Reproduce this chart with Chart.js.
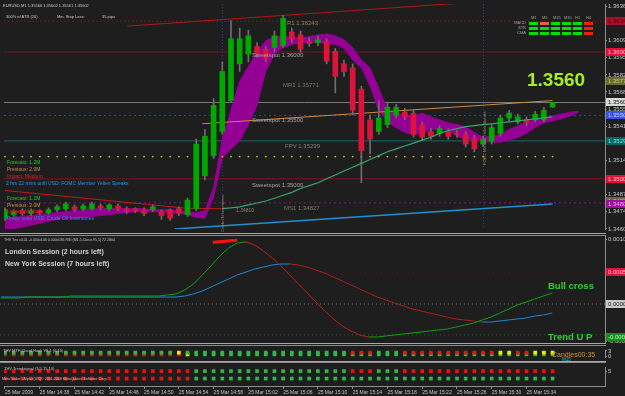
<!DOCTYPE html>
<html><head><meta charset="utf-8">
<script src="https://cdn.jsdelivr.net/npm/chart.js@4.4.1/dist/chart.umd.min.js"></script>
<style>
html,body{margin:0;padding:0;background:#1e1e1e;}
#wrap{position:relative;width:625px;height:396px;overflow:hidden;background:#1e1e1e;font-family:"Liberation Sans",Arial,sans-serif;}
canvas{position:absolute;left:0;}
#cMain{top:0px}#cOsc{top:236px}#cD1{top:346px}#cD2{top:363px}
.t{position:absolute;white-space:nowrap;line-height:1;}
.sep{position:absolute;left:0;width:606px;}
</style></head><body><div id="wrap">
<canvas id="cMain" width="625" height="233"></canvas>
<canvas id="cOsc" width="625" height="107"></canvas>
<canvas id="cD1" width="625" height="15"></canvas>
<canvas id="cD2" width="625" height="33"></canvas>
<div class="sep" style="top:233px;height:1px;background:#a8a8a8"></div>
<div class="sep" style="top:235px;height:1px;background:#8a8a8a"></div>
<div class="sep" style="top:343px;height:1px;background:#a8a8a8"></div>
<div class="sep" style="top:345px;height:1px;background:#8a8a8a"></div>
<div class="sep" style="top:361px;height:1px;background:#a8a8a8"></div>
<div class="sep" style="top:362px;height:1px;background:#8a8a8a"></div>
</div>
<script>
// ---------------- DATA ----------------
// candles: EURUSD M1, 25 Mar 2009 14:34 .. 15:37 (index 0..63)
const openP = [1.34688,1.34718,1.34748,1.34726,1.34748,1.34733,1.34756,1.34764,1.34779,1.34764,
1.34764,1.34786,1.34764,1.34786,1.34764,1.34764,1.34756,1.34756,1.34741,1.34756,
1.34764,1.34718,1.34764,1.35023,1.35183,1.35373,1.35617,1.35907,1.35983,1.36044,
1.36021,1.36036,1.36051,1.36158,1.36135,1.36082,1.36074,1.36082,1.36006,1.35907,
1.35876,1.35708,1.35465,1.35373,1.35427,1.35503,1.35526,1.35518,1.35427,1.35373,
1.35358,1.35373,1.35358,1.35350,1.35320,1.35274,1.35297,1.35358,1.35480,1.35449,
1.35465,1.35465,1.35465,1.35566];
const highP = [1.34771,1.34756,1.34764,1.34764,1.34756,1.34771,1.34794,1.34817,1.34794,1.34802,
1.34817,1.34802,1.34802,1.34802,1.34779,1.34771,1.34771,1.34794,1.34756,1.34764,
1.34779,1.34847,1.35312,1.35388,1.35632,1.35922,1.36249,1.36189,1.36173,1.36074,
1.36044,1.36166,1.36288,1.36189,1.36166,1.36112,1.36128,1.36105,1.36029,1.35937,
1.35907,1.35731,1.35503,1.35617,1.35594,1.35587,1.35556,1.35541,1.35449,1.35396,
1.35419,1.35396,1.35381,1.35373,1.35343,1.35335,1.35427,1.35503,1.35541,1.35510,
1.35488,1.35533,1.35564,1.35602];
const lowP = [1.34672,1.34703,1.34710,1.34710,1.34718,1.34718,1.34741,1.34748,1.34741,1.34748,
1.34756,1.34756,1.34748,1.34748,1.34726,1.34733,1.34710,1.34741,1.34680,1.34672,
1.34710,1.34703,1.34748,1.34992,1.35160,1.35350,1.35602,1.35846,1.35922,1.35960,
1.35922,1.35998,1.36036,1.36074,1.35998,1.36044,1.36051,1.35907,1.35678,1.35808,
1.35503,1.34969,1.35198,1.35350,1.35404,1.35480,1.35465,1.35328,1.35305,1.35312,
1.35335,1.35312,1.35328,1.35251,1.35213,1.35251,1.35274,1.35335,1.35457,1.35434,
1.35419,1.35449,1.35449,1.35561];
const closeP = [1.34756,1.34741,1.34726,1.34748,1.34733,1.34756,1.34779,1.34802,1.34756,1.34786,
1.34802,1.34771,1.34794,1.34764,1.34741,1.34748,1.34726,1.34779,1.34710,1.34688,
1.34733,1.34832,1.35274,1.35335,1.35579,1.35846,1.36105,1.36105,1.36128,1.35983,
1.35945,1.36128,1.36265,1.36105,1.36021,1.36067,1.36097,1.35929,1.35808,1.35846,
1.35541,1.35221,1.35312,1.35480,1.35564,1.35564,1.35488,1.35350,1.35328,1.35335,
1.35396,1.35335,1.35350,1.35274,1.35236,1.35312,1.35404,1.35480,1.35518,1.35488,
1.35442,1.35510,1.35541,1.35602];
// magenta cloud edges (index 0..66, extends 3 bars ahead)
const cloudTop = [1.34688,1.34695,1.34703,1.34710,1.34718,1.34726,1.34733,1.34741,1.34748,1.34756,
1.34764,1.34764,1.34764,1.34764,1.34764,1.34764,1.34764,1.34756,1.34756,1.34756,
1.34748,1.34741,1.34733,1.34748,1.34931,1.35312,1.35541,1.35769,1.35884,1.35998,
1.36090,1.36120,1.36128,1.36112,1.36112,1.36120,1.36135,1.36143,1.36128,1.36097,
1.36036,1.35937,1.35876,1.35716,1.35541,1.35518,1.35503,1.35495,1.35518,1.35488,
1.35465,1.35442,1.35427,1.35411,1.35366,1.35328,1.35335,1.35350,1.35388,1.35419,
1.35449,1.35465,1.35480,1.35495,1.35510,1.35526,1.35533];
const cloudBot = [1.34588,1.34604,1.34619,1.34634,1.34649,1.34665,1.34680,1.34688,1.34688,1.34695,
1.34703,1.34710,1.34718,1.34726,1.34733,1.34741,1.34741,1.34741,1.34741,1.34733,
1.34726,1.34718,1.34695,1.34688,1.34855,1.35160,1.35236,1.35297,1.35427,1.35579,
1.35846,1.35983,1.36036,1.36059,1.36074,1.36074,1.36074,1.36067,1.36059,1.36029,
1.35937,1.35876,1.35731,1.35541,1.35449,1.35404,1.35366,1.35350,1.35366,1.35388,
1.35388,1.35388,1.35335,1.35312,1.35305,1.35297,1.35289,1.35289,1.35305,1.35328,
1.35358,1.35404,1.35442,1.35457,1.35472,1.35495,1.35526];
// moving average curve starting at bar 25
const maStart = 25;
const maLine = [1.34764,1.34771,1.34779,1.34794,1.34809,1.34825,1.34847,1.34870,1.34893,1.34924,
1.34946,1.34969,1.35000,1.35030,1.35061,1.35091,1.35122,1.35152,1.35183,1.35213,
1.35236,1.35259,1.35282,1.35305,1.35328,1.35358,1.35381,1.35396,1.35411,1.35419,
1.35427,1.35434,1.35442,1.35449,1.35457,1.35465,1.35472,1.35480,1.35488];
// straight trend lines: [barIndex, price]
const redTrend   = [[0,1.34908],[21,1.34767],[25,1.34764]];
const upperChan  = [[14,1.36204],[69,1.36464]];
const midChan    = [[22.7,1.35434],[63,1.35617]];
const lowerChan  = [[19.5,1.34604],[63,1.34802]];
// horizontal levels
const levelPrices = [1.36243, 1.36000, 1.35602, 1.35500, 1.35299, 1.35000, 1.34810];
const levelNames  = ["R1","Sweetspot","Bid","Sweetspot","FPV","Sweetspot","MS1"];
const dotLevel = 1.35175;
const dotCount = 64;
// right axis price ticks
const priceTicks = [1.36360,1.36225,1.36090,1.35955,1.35820,1.35685,1.35550,1.35415,1.35280,1.35145,1.35010,1.34875,1.34740,1.34605];
const priceBoxes = [1.36243,1.36000,1.35771,1.35602,1.35500,1.35299,1.35000,1.34827,1.34800];
const eventBars = [25, 55];
// oscillator (THV Trix)
const trixMain = [0.000097,0.000097,0.000097,0.000113,0.000113,0.000113,0.000113,0.000113,0.000130,0.000130,
0.000130,0.000130,0.000130,0.000130,0.000130,0.000130,0.000130,0.000130,0.000130,0.000146,
0.000162,0.000227,0.000324,0.000470,0.000616,0.000778,0.000907,0.000988,0.001004,0.000956,
0.000859,0.000745,0.000616,0.000470,0.000324,0.000178,0.000032,-0.000113,-0.000243,-0.000356,
-0.000437,-0.000502,-0.000535,-0.000535,-0.000518,-0.000502,-0.000486,-0.000470,-0.000454,-0.000437,
-0.000421,-0.000405,-0.000373,-0.000340,-0.000308,-0.000259,-0.000211,-0.000146,-0.000081,-0.000016,
0.000032,0.000081,0.000130,0.000178];
const trixSignal = [0.000113,0.000113,0.000113,0.000113,0.000113,0.000113,0.000113,0.000113,0.000113,0.000113,
0.000113,0.000113,0.000113,0.000113,0.000113,0.000113,0.000113,0.000113,0.000113,0.000113,
0.000113,0.000130,0.000162,0.000211,0.000275,0.000340,0.000405,0.000470,0.000518,0.000567,
0.000599,0.000632,0.000648,0.000648,0.000632,0.000599,0.000551,0.000502,0.000437,0.000373,
0.000308,0.000243,0.000178,0.000113,0.000065,0.000016,-0.000032,-0.000081,-0.000113,-0.000146,
-0.000178,-0.000211,-0.000243,-0.000259,-0.000275,-0.000292,-0.000292,-0.000275,-0.000259,-0.000243,
-0.000227,-0.000194,-0.000178,-0.000146];
const trixMarker = [[24.2,0.000999],[27,0.001032]];
const oscLevels = [0.000500, 0, -0.000500];
const oscTicks = [0.001050, -0.000600];
const oscBoxes = [0.000518, 0.000000, -0.000535];
// signal squares: g=green r=red y=yellow
const d1Row1 = ("gggggggggggggggggggg"+"y"+"ggggggggggggggggggg"+"rrr"+"ggg"+"rrrrrrrrrrr"+"yy"+"rr"+"yyy").split("");
const d1Row2 = ("rrrrrrrrrrrrrrrrrrrrr"+"y"+"gggggggggggggggggggggggggggggggggggggggggg").split("");
const d2Row1 = ("rrrrrrrrrrrrrrrrrrrrrr"+"gggggggggggggggggg"+"rrr"+"ggg"+"rrrrrrrrrrrrrrrrrr").split("");
const d2Row2 = ("rrrrrrrrrrrrrrrrrrrrrr"+"gggggggggggggggggggggggggggggggggggggggggg").split("");
// time axis
const xTickBars = [0,4,8,12,16,20,24,28,32,36,40,44,48,52,56,60];
const xTickLabels = ["25 Mar 2009","25 Mar 14:38","25 Mar 14:42","25 Mar 14:46","25 Mar 14:50","25 Mar 14:54","25 Mar 14:58","25 Mar 15:02","25 Mar 15:06","25 Mar 15:10","25 Mar 15:14","25 Mar 15:18","25 Mar 15:22","25 Mar 15:26","25 Mar 15:30","25 Mar 15:34"];

// ---------------- STYLE / LAYOUT ----------------
const XMIN = -0.114, XMAX = 69.03;
const PMIN = 1.34604, PMAX = 1.36379;
const FONT = 'Liberation Sans';
const bull = '#00a800', bear = '#dc143c', wickC = '#6e6e6e';
const sqColor = {g:'#2fb84a', r:'#ee1111', y:'#eeee00'};
const levelStyle = [
  {c:'#7a1414', d:[2,2]}, {c:'#7a1424', d:[]}, {c:'#7c7c7c', d:[]}, {c:'#2c3ce0', d:[2,3]},
  {c:'#0f6a6a', d:[]}, {c:'#7a1424', d:[]}, {c:'#8c108c', d:[2,3]}];
const boxStyle = [
  {bg:'#a8102a',fg:'#3a0008'},{bg:'#e0103a',fg:'#ffc0c8'},{bg:'#6a6a30',fg:'#c8c890'},{bg:'#d8d8d8',fg:'#202020'},
  {bg:'#3c50e6',fg:'#c8d0ff'},{bg:'#0a6464',fg:'#70e0e0'},{bg:'#e0103a',fg:'#ffc0c8'},{bg:'#6a6a30',fg:'#c8c890'},{bg:'#a010a0',fg:'#f0b0f0'}];
Chart.defaults.font.family = FONT;
Chart.defaults.animation = false;

const pts = (arr, start=0) => arr.map((v,i)=>({x:i+start, y:v}));
const pairs = arr => arr.map(p=>({x:p[0], y:p[1]}));
const xAxisHidden = {type:'linear', min:XMIN, max:XMAX, offset:false, display:false};
function rightAxis(min, max, ticks, fmt){
  return {type:'linear', position:'right', min, max, beginAtZero:false,
    afterBuildTicks: s => { s.ticks = ticks.map(v=>({value:v})); },
    afterFit: s => { s.width = 20; s.paddingTop = 0; s.paddingBottom = 0; },
    ticks:{color:'#c4c4c4', font:{size:6, family:FONT}, padding:1, autoSkip:false, callback: fmt},
    grid:{drawOnChartArea:false, drawTicks:true, tickLength:2, color:'#8c8c8c'},
    border:{display:true, color:'#8c8c8c', width:1}};
}
const boxPlugin = {id:'boxes', afterDraw(chart, args, o){
  const ctx = chart.ctx, ys = chart.scales.y;
  (o.items||[]).forEach((v,k)=>{
    const st = o.styles[k], py = Math.round(ys.getPixelForValue(v));
    ctx.fillStyle = st.bg; ctx.fillRect(606, py-4, 19, 8);
    ctx.fillStyle = st.fg; ctx.font = '6px '+FONT; ctx.textBaseline='middle'; ctx.textAlign='left';
    ctx.fillText(o.fmt(v), 608, py+0.5);
  });
}};
const eventPlugin = {id:'events', beforeDatasetsDraw(chart, args, o){
  const ctx = chart.ctx, xs = chart.scales.x, a = chart.chartArea;
  ctx.save(); ctx.setLineDash([1,2]); ctx.lineWidth = 1;
  (o.bars||[]).forEach((b,k)=>{ const px = Math.round(xs.getPixelForValue(b))+0.5;
    ctx.strokeStyle = o.colors[k]; ctx.beginPath(); ctx.moveTo(px, a.top); ctx.lineTo(px, a.bottom); ctx.stroke(); });
  ctx.restore();
}};
const baseOpts = {responsive:false, devicePixelRatio:1, animation:false, events:[],
  plugins:{legend:{display:false}, tooltip:{enabled:false}}, layout:{padding:0}};

// ---------------- MAIN PRICE PANEL ----------------
const mainSets = [];
mainSets.push({type:'line', data:pts(cloudTop), borderColor:'#930093', backgroundColor:'#930093', borderWidth:1, pointRadius:0, fill:'+1', order:60});
mainSets.push({type:'line', data:pts(cloudBot), borderColor:'#930093', borderWidth:1, pointRadius:0, fill:false, order:61});
levelPrices.forEach((v,k)=>mainSets.push({type:'line', data:[{x:XMIN,y:v},{x:XMAX,y:v}], borderColor:levelStyle[k].c, borderDash:levelStyle[k].d, borderWidth:1, pointRadius:0, order:70}));
mainSets.push({type:'line', data:pairs(redTrend), borderColor:'#c41818', borderWidth:1, pointRadius:0, order:40});
mainSets.push({type:'line', data:pairs(upperChan), borderColor:'#b01818', borderWidth:1, pointRadius:0, order:40});
mainSets.push({type:'line', data:pairs(midChan), borderColor:'#cc8a3c', borderWidth:1, pointRadius:0, order:40});
mainSets.push({type:'line', data:pairs(lowerChan), borderColor:'#1e90d0', borderWidth:1.5, pointRadius:0, order:40});
mainSets.push({type:'line', data:Array.from({length:dotCount},(_,i)=>({x:i,y:dotLevel})), showLine:false, pointRadius:0.9, pointBackgroundColor:'#d8c000', pointBorderWidth:0, order:45});
mainSets.push({type:'bar', data:lowP.map((l,i)=>({x:i,y:[l,highP[i]]})), backgroundColor:wickC, barThickness:1, grouped:false, order:20});
mainSets.push({type:'bar', data:openP.map((o,i)=>({x:i,y:[o,closeP[i]]})), backgroundColor:openP.map((o,i)=>closeP[i]>=o?bull:bear), barThickness:5, grouped:false, order:10, minBarLength:1});
mainSets.push({type:'line', data:pts(maLine, maStart), borderColor:'#34a86a', borderWidth:1.2, pointRadius:0, order:5});

new Chart(document.getElementById('cMain'), {type:'bar', data:{datasets:mainSets},
  options:{...baseOpts,
    scales:{x:xAxisHidden, y:rightAxis(PMIN, PMAX, priceTicks, v=>v.toFixed(5))},
    plugins:{...baseOpts.plugins, boxes:{items:priceBoxes, styles:boxStyle, fmt:v=>v.toFixed(5)},
      events:{bars:eventBars, colors:['#2a3c9a','#3a3a70']}}},
  plugins:[boxPlugin, eventPlugin]});

// ---------------- OSCILLATOR PANEL ----------------
const OMIN = -0.000632, OMAX = 0.001102;
const oscSets = [];
const oscLevelCol = ['#6a1010','#6a6a6a','#106a10'];
oscLevels.forEach((v,k)=>oscSets.push({type:'line', data:[{x:XMIN,y:v},{x:XMAX,y:v}], borderColor:oscLevelCol[k], borderDash:[1,3], borderWidth:1, pointRadius:0, order:50}));
oscSets.push({type:'line', data:pts(trixSignal), borderWidth:1, pointRadius:0, order:20,
  segment:{borderColor:c=>c.p1.parsed.y>=c.p0.parsed.y?'#1e88d8':'#b01c1c'}});
oscSets.push({type:'line', data:pts(trixMain), borderWidth:1, pointRadius:0, order:10,
  segment:{borderColor:c=>c.p1.parsed.y>=c.p0.parsed.y?'#10a010':'#c01c1c'}});
oscSets.push({type:'line', data:pairs(trixMarker), borderColor:'#ff1010', borderWidth:3, pointRadius:0, order:5});
new Chart(document.getElementById('cOsc'), {type:'line', data:{datasets:oscSets},
  options:{...baseOpts,
    scales:{x:xAxisHidden, y:rightAxis(OMIN, OMAX, oscTicks, v=>v.toFixed(6))},
    plugins:{...baseOpts.plugins, boxes:{items:oscBoxes, styles:[{bg:'#e0103a',fg:'#ffc0c8'},{bg:'#c8c8c8',fg:'#202020'},{bg:'#1a8a1a',fg:'#b0ffb0'}], fmt:v=>v.toFixed(6)}}},
  plugins:[boxPlugin]});

// ---------------- SIGNAL SQUARE PANELS ----------------
function sqSet(row, yv){ return {type:'line', data:row.map((c,i)=>({x:i,y:yv})), showLine:false, pointStyle:'rect',
  pointRadius:2.6, pointBorderWidth:0, pointBackgroundColor:row.map(c=>sqColor[c])}; }
new Chart(document.getElementById('cD1'), {type:'line', data:{datasets:[sqSet(d1Row1,2), sqSet(d1Row2,1)]},
  options:{...baseOpts, scales:{x:xAxisHidden, y:rightAxis(-0.5, 3.5, [3,0], v=>String(v))}}});
const d2Axis = rightAxis(0, 2.55, [2], v=>'5');
new Chart(document.getElementById('cD2'), {type:'line', data:{datasets:[sqSet(d2Row1,2), sqSet(d2Row2,1)]},
  options:{...baseOpts, scales:{
    x:{type:'linear', min:XMIN, max:XMAX, offset:false, position:'bottom',
      afterBuildTicks: s => { s.ticks = xTickBars.map(v=>({value:v})); },
      afterFit: s => { s.height = 10; s.paddingLeft = 0; s.paddingRight = 0; },
      ticks:{color:'#c4c4c4', font:{size:5, family:FONT}, align:'start', maxRotation:0, autoSkip:false, padding:1,
        callback:(v,i)=>xTickLabels[i]},
      grid:{drawOnChartArea:false, drawTicks:true, tickLength:3, color:'#8c8c8c'},
      border:{display:true, color:'#8c8c8c'}},
    y:d2Axis}}});

// ---------------- TEXT OVERLAYS ----------------
const W = document.getElementById('wrap');
function T(txt, x, y, size, color, o={}){
  const d = document.createElement('div'); d.className='t'; d.textContent = txt;
  d.style.left = x+'px'; d.style.top = (y - size*0.55)+'px'; d.style.fontSize = size+'px'; d.style.color = color;
  if (o.bold) d.style.fontWeight = 'bold';
  if (o.rot){ d.style.transformOrigin='0 0'; d.style.transform='rotate(-90deg)'; d.style.top = y+'px'; }
  W.appendChild(d); return d;
}
T('EURUSD,M1  1.35566 1.35602 1.35561 1.35602', 3, 6, 4, '#c8c8c8');
T('300% of ATR (20)', 6, 17.5, 4, '#c8c8c8');
T('Min. Stop Loss:', 57, 17.5, 4, '#c8c8c8');
T('35 pips', 102, 17.5, 4, '#c8c8c8');
// multi-timeframe table
const tfNames = ['M1','M5','M15','M30','H1','H4'];
const tfRows = ['MACD','STR','CMA'];
const tfState = [['g','r','g','g','g','r'],['g','g','g','g','g','r'],['g','g','g','g','g','r']];
tfNames.forEach((n,k)=>T(n, 531+11*k, 18.5, 4, '#a0a0a0'));
tfRows.forEach((n,r)=>{ const d=T(n, 509, 23.5+5*r, 4, '#a0a0a0'); d.style.width='17px'; d.style.textAlign='right';
  tfState[r].forEach((s,k)=>{ const c=document.createElement('div'); c.style.cssText=`position:absolute;left:${529+11*k}px;top:${22+5*r}px;width:9px;height:3px;background:${s==='g'?'#00e000':(r===0&&k===1?'#f05858':'#ff1818')}`; W.appendChild(c); }); });
T('1.3560', 527, 80, 19, '#a6f020', {bold:true});
// level labels
T('R1   1.36243', 287, 23, 6, '#8c8470');
T('Sweetspot  1.36000', 252, 55, 6, '#a4a4a4');
T('MR1   1.35771', 283, 85, 6, '#7c7a5c');
T('Sweetspot  1.35500', 252, 120.5, 6, '#a4a4a4');
T('FPV   1.35299', 285, 146, 6, '#7e8278');
T('Sweetspot  1.35000', 252, 185.5, 6, '#a4a4a4');
T('MS1   1.34827', 284, 208.5, 6, '#7c7a5c');
T('1.34810', 236, 210.5, 5, '#8c8470');
// news
T('Forecast: 1.2M', 7, 163, 5, '#24c824');
T('Previous: 2.0M', 7, 170, 5, '#c89050');
T('Impact: Medium', 7, 177, 5, '#d82020');
T('2 hrs 22 mins until USD: FOMC Member Yellen Speaks', 6, 183.5, 5, '#2890f0');
T('Forecast: 1.2M', 7, 199, 5, '#24c824');
T('Previous: 2.0M', 7, 205.5, 5, '#c89050');
T('Impact: Medium', 7, 212, 5, '#d82020');
T('Pretty soon USD: Crude Oil Inventories', 7, 219, 5, '#2890f0');
T('Crude Oil Inventories', 221, 232, 4, '#a08860', {rot:true});
T('FOMC Member Yellen Speaks', 483, 165, 4, '#a08860', {rot:true});
// oscillator texts
T('THV Trix v4.01 -0.000x146 0.000x586  RSI (M1,5,Close,95,5) 72.2804', 4, 241, 3.6, '#c0c0c0');
T('London Session (2 hours left)', 5, 252, 7, '#d0d0d0', {bold:true});
T('New York Session (7 hours left)', 5, 264, 7, '#d0d0d0', {bold:true});
T('Bull cross', 548, 286, 9.5, '#30d030', {bold:true});
T('Trend U P', 548, 337.5, 9.5, '#30d030', {bold:true});
// square panels texts
T('THV MTF Cloud Hook V8.1 (6,10)', 3, 351, 4, '#c0c0c0');
T('Candles00:35', 552, 354.5, 7, '#d09030');
T('M15', 562, 360, 4.5, '#10b8e0');
T('THV Trendsignal (3,5,15,10)', 4, 369, 4, '#c0c0c0');
T('MetaTrader - Alpari (UK)\u00a9 2001-2008 MetaQuotes Software Corp.', 2, 380, 3.6, '#c0c0c0');
</script></body></html>
